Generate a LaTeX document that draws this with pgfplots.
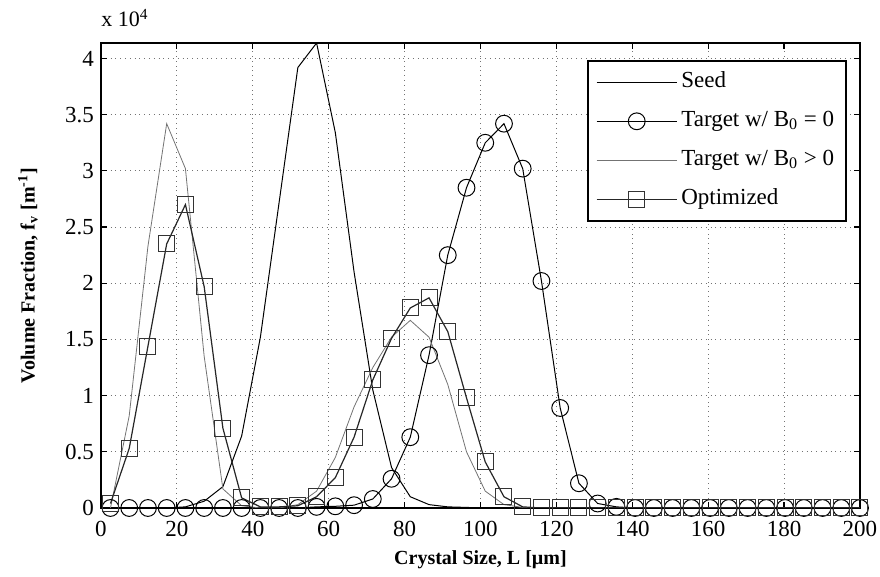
\documentclass[border=0pt]{standalone}
\usepackage{fontspec}
\setmainfont{Liberation Serif}
\usepackage{pgfplots}
\usepackage{pgfplotstable}
\pgfplotsset{compat=1.18}

% x = crystal size L, columns: seed, target B0=0, target B0>0, optimized
\pgfplotstableread{
x        seed   tzero  tpos   opt
2.5      0      0      0      400
7.4375   0      0      8200   5300
12.375   0      0      23300  14400
17.3125  0      0      34200  23500
22.25    100    0      30200  27000
27.1875  600    0      13500  19700
32.125   1900   0      1700   7100
37.0625  6400   0      200    900
42.0     15200  0      0      100
46.9375  27200  0      0      100
51.875   39200  0      300    200
56.8125  41380  100    1500   1000
61.75    33400  150    4500   2700
66.6875  21000  250    9000   6300
71.625   10500  800    12500  11400
76.5625  3600   2600   15200  15100
81.5     1000   6300   16700  17800
86.4375  300    13600  15200  18700
91.375   100    22500  11000  15700
96.3125  50     28500  5000   9800
101.25   0      32500  1500   4100
106.1875 0      34200  300    1000
111.125  0      30200  50     100
116.0625 0      20200  0      0
121.0    0      8900   0      0
125.9375 0      2200   0      0
130.875  0      400    0      0
135.8125 0      100    0      0
140.75   0      0      0      0
145.6875 0      0      0      0
150.625  0      0      0      0
155.5625 0      0      0      0
160.5    0      0      0      0
165.4375 0      0      0      0
170.375  0      0      0      0
175.3125 0      0      0      0
180.25   0      0      0      0
185.1875 0      0      0      0
190.125  0      0      0      0
195.0625 0      0      0      0
200.0    0      0      0      0
}\data

\begin{document}
\begin{tikzpicture}
\path[use as bounding box] (-50.5pt,-34.5pt) rectangle (389.5pt,254pt);
\begin{axis}[
    scale only axis,
    width=379.5pt, height=232.5pt,
    xmin=0, xmax=200, ymin=0, ymax=41380,
    xtick={0,20,...,200},
    ytick={0,5000,...,40000},
    scaled y ticks=base 10:-4,
    ytick scale label code/.code={x 10\textsuperscript{#1}},
    every y tick scale label/.style={at={(rel axis cs:0,1)}, anchor=base west,
        inner sep=0pt, yshift=8pt, font=\fontsize{11}{13}\selectfont},
    /pgf/number format/assume math mode=true,
    yticklabel style={/pgf/number format/fixed},
    ticklabel style={font=\fontsize{11.5}{13}\selectfont},
    xticklabel style={yshift=-3pt},
    tick align=inside,
    major tick length=3pt,
    tick style={black, line width=0.6pt},
    axis line style={line width=0.9pt},
    grid=major,
    major grid style={dotted, black!55, line width=0.5pt},
    xlabel={\textbf{Crystal Size, L [µm]}},
    ylabel={\textbf{Volume Fraction, f\textsubscript{v} [m\textsuperscript{-1}]}},
    label style={font=\fontsize{10}{12}\selectfont},
    xlabel style={at={(axis description cs:0.5,0)}, anchor=center, yshift=-26pt},
    ylabel style={at={(axis description cs:0,0.5)}, anchor=center, yshift=36.5pt},
    legend image code/.code={\draw[#1, mark repeat=2, mark phase=2]
        plot coordinates {(0pt,0pt) (20pt,0pt) (40pt,0pt)};},
    legend cell align=left,
    legend style={at={(rel axis cs:1,1)}, anchor=north east, xshift=-6.5pt, yshift=-8.5pt,
        draw=black, line width=0.8pt, fill=white,
        font=\fontsize{11.5}{13}\selectfont,
        inner xsep=4pt, inner ysep=3.25pt, row sep=4.5pt,
        nodes={inner sep=2pt, text height=8pt, text depth=3pt}},
]
\addplot[black, line width=0.5pt, mark=none] table[x=x, y=seed] {\data};
\addplot[black, line width=0.5pt, mark=o, mark size=4.2pt,
    mark options={solid, black, line width=0.5pt}] table[x=x, y=tzero] {\data};
\addplot[black!55, line width=0.4pt, mark=none] table[x=x, y=tpos] {\data};
\addplot[black!85, line width=0.6pt, mark=square, mark size=4pt,
    mark options={solid, black!80, line width=0.5pt}] table[x=x, y=opt] {\data};
\legend{Seed, Target w/ B\textsubscript{0} = 0, Target w/ B\textsubscript{0} > 0, Optimized}
\end{axis}
\end{tikzpicture}
\end{document}
